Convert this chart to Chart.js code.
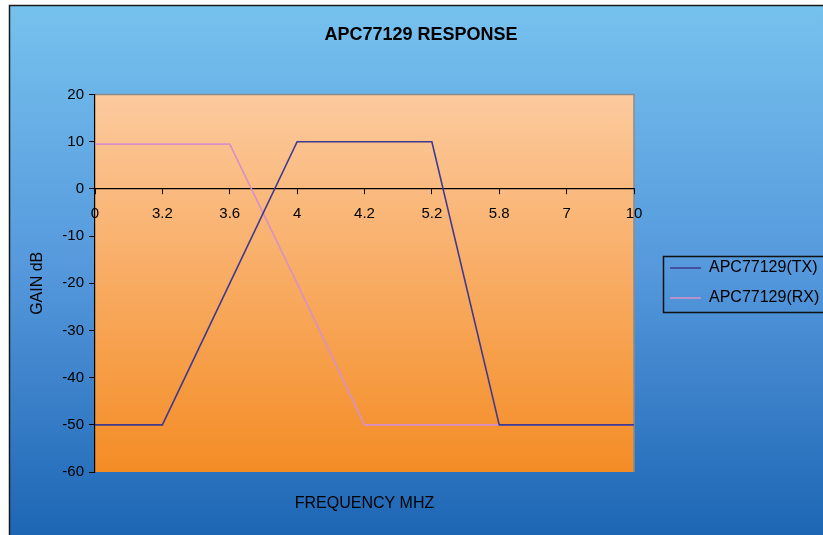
<!DOCTYPE html>
<html>
<head>
<meta charset="utf-8">
<script src="https://cdn.jsdelivr.net/npm/chart.js@4/dist/chart.umd.min.js"></script>
<style>
  html, body { margin: 0; padding: 0; overflow: hidden; background: #fff; }
</style>
</head>
<body>
<canvas id="chart" width="823" height="535"></canvas>
<script>
// values
var frequencies = ['0', '3.2', '3.6', '4', '4.2', '5.2', '5.8', '7', '10'];
var txGain = [-50, -50, -20, 10, 10, 10, -50, -50, -50];
var rxGain = [9.5, 9.5, 9.5, -20, -50, -50, -50, -50, -50];
var gainMin = -60;
var gainMax = 20;
var gainStep = 10;

var FONT = "'Liberation Sans', Arial, sans-serif";

// Excel-ish backdrop: blue frame gradient, orange plot gradient, legend frame
var backdrop = {
  id: 'backdrop',
  afterLayout: function(chart) {
    // move the legend out to the right of the plot, like the original
    var lg = chart.legend;
    var w = lg.width;
    lg.left = 656;
    lg.right = lg.left + w;
    lg.top = 240;
    lg.bottom = 326;
  },
  beforeDraw: function(chart) {
    var ctx = chart.ctx;
    var a = chart.chartArea;
    ctx.save();
    ctx.fillStyle = '#ffffff';
    ctx.fillRect(0, 0, chart.width, chart.height);

    var g = ctx.createLinearGradient(0, 5, 0, chart.height);
    g.addColorStop(0, '#76c2ee');
    g.addColorStop(0.5, '#5598dc');
    g.addColorStop(1, '#1d66b4');
    ctx.fillStyle = g;
    ctx.fillRect(9, 5, chart.width, chart.height);
    ctx.strokeStyle = '#1a1a1a';
    ctx.lineWidth = 1.5;
    ctx.strokeRect(9.5, 5.5, chart.width + 10, chart.height + 10);

    var p = ctx.createLinearGradient(0, a.top, 0, a.bottom);
    p.addColorStop(0, '#fcca9e');
    p.addColorStop(1, '#f48c25');
    ctx.fillStyle = p;
    ctx.fillRect(a.left, a.top, a.right - a.left, a.bottom - a.top);

    ctx.strokeStyle = '#8a8a8a';
    ctx.lineWidth = 1.5;
    ctx.beginPath();
    ctx.moveTo(a.left, a.top);
    ctx.lineTo(a.right, a.top);
    ctx.lineTo(a.right, a.bottom);
    ctx.stroke();
    ctx.restore();
  },
  afterDraw: function(chart) {
    var ctx = chart.ctx;
    ctx.save();
    ctx.strokeStyle = '#111111';
    ctx.lineWidth = 1.5;
    ctx.strokeRect(663.5, 256.5, 200, 56);
    ctx.restore();
  }
};

new Chart(document.getElementById('chart').getContext('2d'), {
  type: 'line',
  data: {
    labels: frequencies,
    datasets: [{
      label: 'APC77129(TX)',
      data: txGain,
      borderColor: '#3f3a8e',
      backgroundColor: '#3f3a8e',
      borderWidth: 1.6,
      pointRadius: 0,
      tension: 0,
      fill: false
    }, {
      label: 'APC77129(RX)',
      data: rxGain,
      borderColor: '#d890c6',
      backgroundColor: '#d890c6',
      borderWidth: 1.6,
      pointRadius: 0,
      tension: 0,
      fill: false
    }]
  },
  options: {
    responsive: false,
    animation: false,
    layout: { padding: { left: 19, right: 0, top: 0, bottom: 0 } },
    plugins: {
      title: {
        display: true,
        text: 'APC77129 RESPONSE',
        color: '#000',
        font: { family: FONT, size: 18, weight: 'bold' },
        padding: { top: 24, bottom: 49 }
      },
      legend: {
        position: 'chartArea',
        labels: {
          color: '#000',
          font: { family: FONT, size: 16 },
          usePointStyle: true,
          pointStyle: 'line',
          pointStyleWidth: 31,
          padding: 14
        }
      },
      tooltip: { enabled: false }
    },
    scales: {
      x: {
        type: 'category',
        position: { y: 0 },
        offset: false,
        grid: { drawOnChartArea: false, color: '#000', tickLength: 5 },
        border: { color: '#000', width: 1.2 },
        ticks: {
          color: '#000',
          font: { family: FONT, size: 15 },
          padding: 11,
          autoSkip: false,
          maxRotation: 0
        }
      },
      x2: {
        type: 'category',
        position: 'bottom',
        grid: { display: false, drawTicks: false },
        border: { display: false },
        ticks: { display: false },
        title: {
          display: true,
          text: 'FREQUENCY MHZ',
          color: '#000',
          font: { family: FONT, size: 16 },
          padding: { top: 0, bottom: 22 }
        },
        afterFit: function(s) { s.height = 63; }
      },
      y: {
        min: gainMin,
        max: gainMax,
        grid: { drawOnChartArea: false, color: '#000', tickLength: 6 },
        border: { color: '#000', width: 1.2 },
        ticks: {
          stepSize: gainStep,
          color: '#000',
          font: { family: FONT, size: 15 },
          padding: 5
        },
        title: {
          display: true,
          text: 'GAIN dB',
          color: '#000',
          font: { family: FONT, size: 16 },
          padding: { top: 9, bottom: 0 }
        },
        afterFit: function(s) { s.width = 76; }
      },
      y2: {
        position: 'right',
        grid: { display: false, drawTicks: false },
        border: { display: false },
        ticks: { display: false },
        afterFit: function(s) { s.width = 189; }
      }
    }
  },
  plugins: [backdrop]
});
</script>
</body>
</html>
